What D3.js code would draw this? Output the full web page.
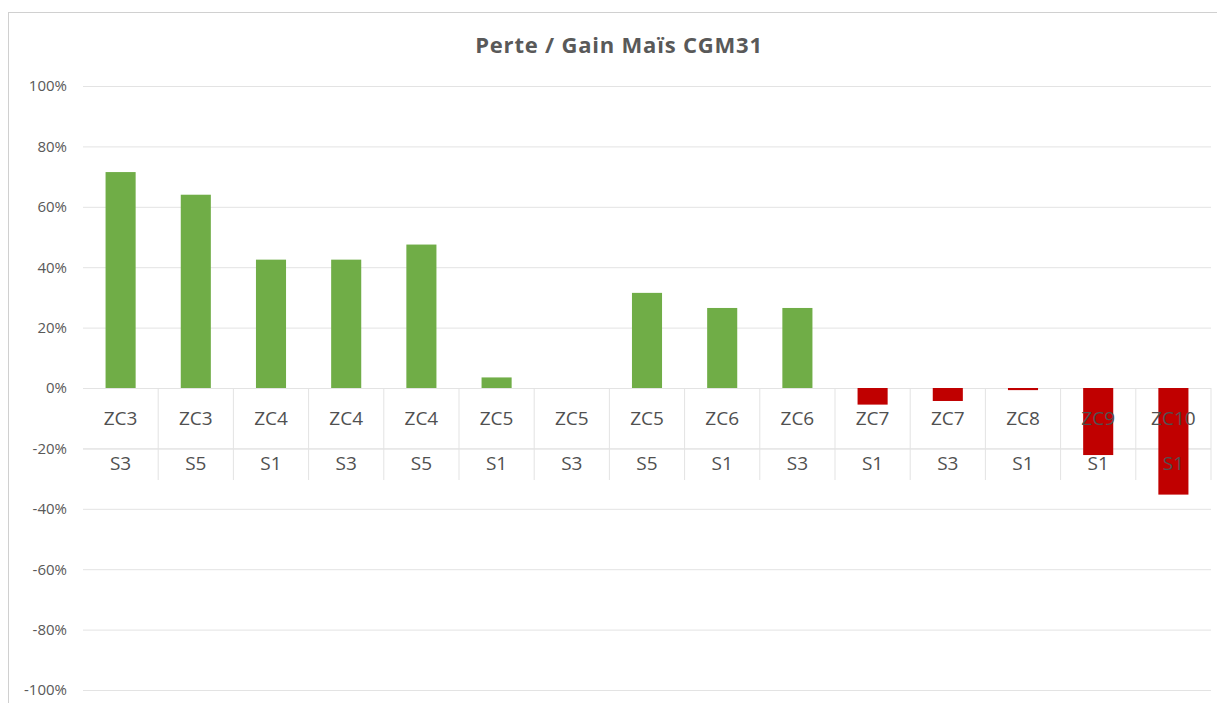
<!DOCTYPE html>
<html lang="fr">
  <head>
    <meta charset="UTF-8" />
    <title>Perte / Gain Maïs CGM31</title>
    <script src="https://d3js.org/d3.v7.min.js"></script>
    <style>
      body { margin: 0; background: white; }
      text { font-family: "Open Sans", "Noto Sans", sans-serif; fill: #595959; }
    </style>
  </head>
  <body>
    <div id="chart"></div>

    <script>
      // ----------- Data ----------- //
      var zones = ['ZC3', 'ZC3', 'ZC4', 'ZC4', 'ZC4', 'ZC5', 'ZC5', 'ZC5', 'ZC6', 'ZC6', 'ZC7', 'ZC7', 'ZC8', 'ZC9', 'ZC10'];
      var sites = ['S3', 'S5', 'S1', 'S3', 'S5', 'S1', 'S3', 'S5', 'S1', 'S3', 'S1', 'S3', 'S1', 'S1', 'S1'];
      var values = [0.715, 0.64, 0.425, 0.425, 0.475, 0.035, 0, 0.315, 0.265, 0.265, -0.055, -0.043, -0.007, -0.222, -0.353];
      var yTicks = [1, 0.8, 0.6, 0.4, 0.2, 0, -0.2, -0.4, -0.6, -0.8, -1];

      // ----------- Layout ----------- //
      var width = 1217;
      var height = 703;
      var plotLeft = 83;
      var plotRight = 1211;
      var plotTop = 86;
      var plotBottom = 690;

      var svg = d3.select('#chart')
        .append('svg')
        .attr('width', width)
        .attr('height', height);

      // chart frame
      svg.append('rect')
        .attr('x', 8.5)
        .attr('y', 12.5)
        .attr('width', width + 10)
        .attr('height', height + 10)
        .style('fill', 'white')
        .style('stroke', '#d0d0d0');

      svg.append('text')
        .attr('x', 619)
        .attr('y', 53)
        .attr('text-anchor', 'middle')
        .style('font-size', '22px')
        .style('font-weight', 'bold')
        .style('letter-spacing', '0.8px')
        .text('Perte / Gain Maïs CGM31');

      // ----------- Scales ----------- //
      var idx = values.map((d, i) => i);

      var xScale = d3.scaleBand()
        .domain(idx)
        .range([plotLeft, plotRight])
        .paddingInner(0.6)
        .paddingOuter(0.3);

      var yScale = d3.scaleLinear()
        .domain([-1, 1])
        .range([plotBottom, plotTop]);

      // ----------- Grid + y axis ----------- //
      var pct = (d) => Math.round(d * 100) + '%';

      var yAxis = d3.axisLeft(yScale)
        .tickValues(yTicks)
        .tickSize(-(plotRight - plotLeft))
        .tickPadding(16)
        .tickFormat(pct);

      var gy = svg.append('g')
        .attr('transform', 'translate(' + plotLeft + ',0)')
        .call(yAxis);

      gy.select('.domain').remove();
      gy.selectAll('line').style('stroke', '#e3e3e3');
      gy.selectAll('text')
        .style('font-size', '15px')
        .style('fill', '#595959');

      // ----------- Category axis lines (two levels) ----------- //
      var step = xScale.step();
      var zeroY = yScale(0);
      var rowZ = zeroY + 30;
      var rowS = zeroY + 75;
      var midLine = zeroY + 61;
      var axisBottom = zeroY + 92;

      var bounds = idx.map((i) => xScale(i) - (step - xScale.bandwidth()) / 2 + step);

      svg.selectAll('line.sep')
        .data(bounds)
        .enter()
        .append('line')
          .attr('class', 'sep')
          .attr('x1', (d) => d)
          .attr('x2', (d) => d)
          .attr('y1', zeroY)
          .attr('y2', axisBottom)
          .style('stroke', '#e3e3e3');

      svg.append('line')
        .attr('x1', plotLeft)
        .attr('x2', plotRight)
        .attr('y1', midLine)
        .attr('y2', midLine)
        .style('stroke', '#e3e3e3');

      // ----------- Bars ----------- //
      svg.selectAll('rect.bar')
        .data(values)
        .enter()
        .append('rect')
          .attr('class', 'bar')
          .attr('x', (d, i) => xScale(i))
          .attr('y', (d) => yScale(Math.max(0, d)))
          .attr('width', xScale.bandwidth())
          .attr('height', (d) => Math.abs(yScale(d) - yScale(0)))
          .style('fill', (d) => d < 0 ? '#c00000' : '#70ad47');

      // ----------- Category labels ----------- //
      svg.selectAll('text.zone')
        .data(zones)
        .enter()
        .append('text')
          .attr('class', 'zone')
          .attr('x', (d, i) => xScale(i) + xScale.bandwidth() / 2)
          .attr('y', rowZ)
          .attr('dy', '0.35em')
          .attr('text-anchor', 'middle')
          .style('font-size', '19px')
          .style('fill', '#505050')
          .text((d) => d);

      svg.selectAll('text.site')
        .data(sites)
        .enter()
        .append('text')
          .attr('class', 'site')
          .attr('x', (d, i) => xScale(i) + xScale.bandwidth() / 2)
          .attr('y', rowS)
          .attr('dy', '0.35em')
          .attr('text-anchor', 'middle')
          .style('font-size', '19px')
          .style('fill', '#505050')
          .text((d) => d);
    </script>
  </body>
</html>
